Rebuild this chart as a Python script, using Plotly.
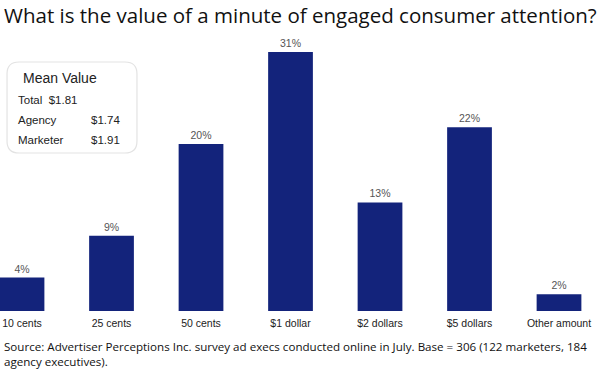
import plotly.graph_objects as go

categories = ["10 cents", "25 cents", "50 cents", "$1 dollar", "$2 dollars", "$5 dollars", "Other amount"]
values = [4, 9, 20, 31, 13, 22, 2]
value_labels = ["4%", "9%", "20%", "31%", "13%", "22%", "2%"]

mean_labels = ["Total", "Agency", "Marketer"]
mean_values = ["$1.81", "$1.74", "$1.91"]

title = "What is the value of a minute of engaged consumer attention?"
source = ("Source: Advertiser Perceptions Inc. survey ad execs conducted online in July. Base = 306 (122 marketers, 184<br>"
          "agency executives).")

fig = go.Figure()
fig.add_trace(go.Bar(
    x=list(range(len(categories))), y=values,
    width=0.5,
    marker=dict(color="#13237b", line=dict(width=0)),
    text=value_labels, textposition="outside",
    textfont=dict(family="Liberation Sans, Arial", size=10.5, color="#555555"),
    cliponaxis=False,
))

fig.update_layout(
    width=600, height=375,
    margin=dict(l=0, r=0, t=40, b=64),
    plot_bgcolor="white", paper_bgcolor="white",
    showlegend=False,
    xaxis=dict(range=[-0.246, 6.458], tickvals=list(range(len(categories))), ticktext=categories,
               showgrid=False, zeroline=False, showline=False, ticks="",
               ticklabeloverflow="allow", ticklabelstandoff=4,
               tickfont=dict(family="Liberation Sans, Arial", size=10.5, color="#222222")),
    yaxis=dict(range=[0, 32.45], visible=False),
    font=dict(family="Liberation Sans, Arial"),
)

fig.add_annotation(xref="paper", yref="paper", x=0.5, y=1, yshift=25, xanchor="center", yanchor="middle",
                   text=title, showarrow=False,
                   font=dict(family="Open Sans", size=20.5, color="#111111"))
fig.add_annotation(xref="paper", yref="paper", x=0, xshift=2, y=0, yshift=-26, xanchor="left", yanchor="top",
                   text=source, showarrow=False, align="left",
                   font=dict(family="Open Sans", size=11.6, color="#111111"))

# Mean value box (paper coords: top y=62px, bottom y=153px, left x=7px, right x=137px)
fig.add_shape(type="path", xref="paper", yref="paper",
              path="M 0.0317 0.9188 L 0.2083 0.9188 Q 0.2283 0.9188 0.2283 0.8745 L 0.2283 0.6273 Q 0.2283 0.5830 0.2083 0.5830 "
                   "L 0.0317 0.5830 Q 0.0117 0.5830 0.0117 0.6273 L 0.0117 0.8745 Q 0.0117 0.9188 0.0317 0.9188 Z",
              line=dict(color="#e3e3e3", width=1.2), fillcolor="white")

def px_x(x):
    return x / 600.0

def px_y(y):
    return (311 - y) / 271.0

fig.add_annotation(xref="paper", yref="paper", x=px_x(60), y=px_y(78), xanchor="center", yanchor="middle",
                   text="Mean Value", showarrow=False,
                   font=dict(family="Liberation Sans, Arial", size=14, color="#222222"))
ys = [100, 120, 140]
for lab, val, yy in zip(mean_labels, mean_values, ys):
    if lab == "Total":
        fig.add_annotation(xref="paper", yref="paper", x=px_x(16), y=px_y(yy), xanchor="left", yanchor="middle",
                           text=lab + "  " + val, showarrow=False,
                           font=dict(family="Liberation Sans, Arial", size=11.5, color="#222222"))
    else:
        fig.add_annotation(xref="paper", yref="paper", x=px_x(16), y=px_y(yy), xanchor="left", yanchor="middle",
                           text=lab, showarrow=False,
                           font=dict(family="Liberation Sans, Arial", size=11.5, color="#222222"))
        fig.add_annotation(xref="paper", yref="paper", x=px_x(89), y=px_y(yy), xanchor="left", yanchor="middle",
                           text=val, showarrow=False,
                           font=dict(family="Liberation Sans, Arial", size=11.5, color="#222222"))

fig.write_html("out.html", config={"displayModeBar": False},
               post_script="document.body.style.margin='0px';document.body.style.overflow='hidden';")
